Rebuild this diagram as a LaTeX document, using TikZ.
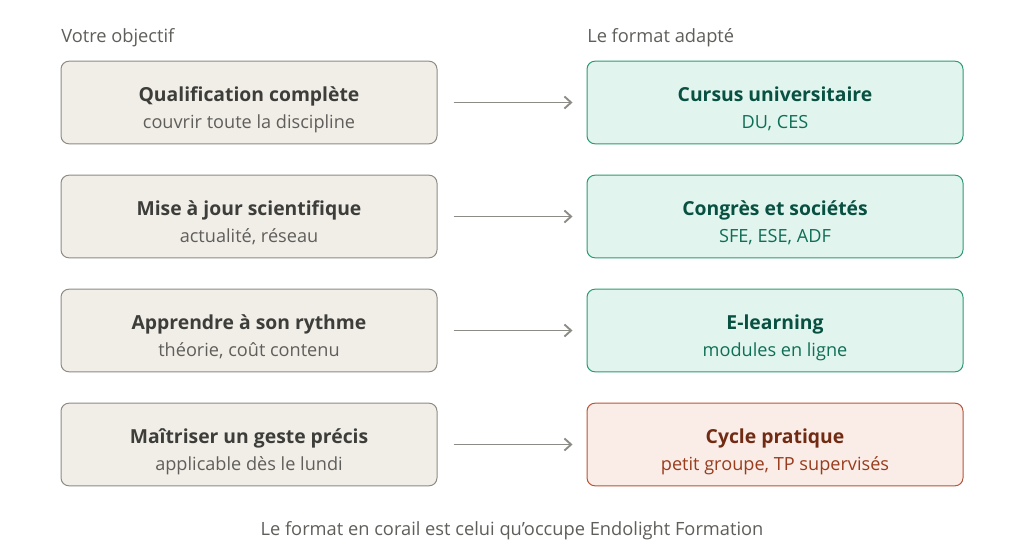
\documentclass[tikz,border=0pt]{standalone}
\usepackage{fontspec}
\IfFontExistsTF{Open Sans SemiBold}
  {\setmainfont{Open Sans}[BoldFont={Open Sans SemiBold}]}
  {\setmainfont{Open Sans}}
\usetikzlibrary{arrows.meta}

\definecolor{lfill}{HTML}{F1EEE8}
\definecolor{ldraw}{HTML}{8E8B84}
\definecolor{ltitle}{HTML}{3D3D3A}
\definecolor{lsub}{HTML}{5F5E5A}
\definecolor{gfill}{HTML}{E1F5EE}
\definecolor{gdraw}{HTML}{2E9A72}
\definecolor{gtitle}{HTML}{085041}
\definecolor{gsub}{HTML}{0F6E56}
\definecolor{cfill}{HTML}{FAECE7}
\definecolor{cdraw}{HTML}{B5553A}
\definecolor{ctitle}{HTML}{712B13}
\definecolor{csub}{HTML}{993C1D}
\definecolor{arrowgray}{HTML}{8C8B86}

\newcommand{\boxlines}[4]{{\color{#3}\fontsize{14.5}{18}\selectfont\bfseries\strut #1}\\[2.8pt]{\color{#4}\fontsize{13.6}{16}\selectfont\strut #2}}

\begin{document}
\begin{tikzpicture}[x=0.75pt,y=-0.75pt,
  card/.style={rounded corners=6pt, line width=0.75pt, minimum width=282pt, minimum height=62pt, inner sep=0pt},
  lbox/.style={card, fill=lfill, draw=ldraw},
  gbox/.style={card, fill=gfill, draw=gdraw},
  cbox/.style={card, fill=cfill, draw=cdraw},
  boxtext/.style={align=center, inner sep=0pt, yshift=-5.3pt},
  link/.style={draw=arrowgray, line width=1.4pt, -{Straight Barb[length=5pt,width=9pt]}, shorten <=12pt, shorten >=10.5pt},
  header/.style={anchor=base west, inner sep=0pt, text=lsub, font=\fontsize{13.7}{16}\selectfont}]
\useasboundingbox (0,0) rectangle (1024,560);

% headers
\node[header] (hleft) at (61,43) {Votre objectif};
\node[header] (hright) at (587,43) {Le format adapté};

% left column: goals
\foreach \i/\t/\s in {0/Qualification complète/couvrir toute la discipline,
                      1/Mise à jour scientifique/{actualité, réseau},
                      2/Apprendre à son rythme/{théorie, coût contenu},
                      3/Maîtriser un geste précis/applicable dès le lundi} {
    \node[lbox] (goal\i) at (249,102.5+114*\i) {};
    \node[boxtext] (goaltxt\i) at (goal\i.center) {\boxlines{\t}{\s}{ltitle}{lsub}};
}

% right column: formats
\foreach \i/\t/\s in {0/Cursus universitaire/{DU, CES},
                      1/Congrès et sociétés/{SFE, ESE, ADF},
                      2/E-learning/modules en ligne} {
    \node[gbox] (fmt\i) at (775,102.5+114*\i) {};
    \node[boxtext] (fmttxt\i) at (fmt\i.center) {\boxlines{\t}{\s}{gtitle}{gsub}};
}
\node[cbox] (fmt3) at (775,444.5) {};
\node[boxtext] (fmttxt3) at (fmt3.center) {\boxlines{Cycle pratique}{petit groupe, TP supervisés}{ctitle}{csub}};

\foreach \i in {0,1,2,3} {
    \draw[link] (goal\i) -- (fmt\i);
}

\node[text=lsub, font=\fontsize{13.7}{16}\selectfont] (note) at (512,531) {Le format en corail est celui qu'occupe Endolight Formation};
\end{tikzpicture}
\end{document}
